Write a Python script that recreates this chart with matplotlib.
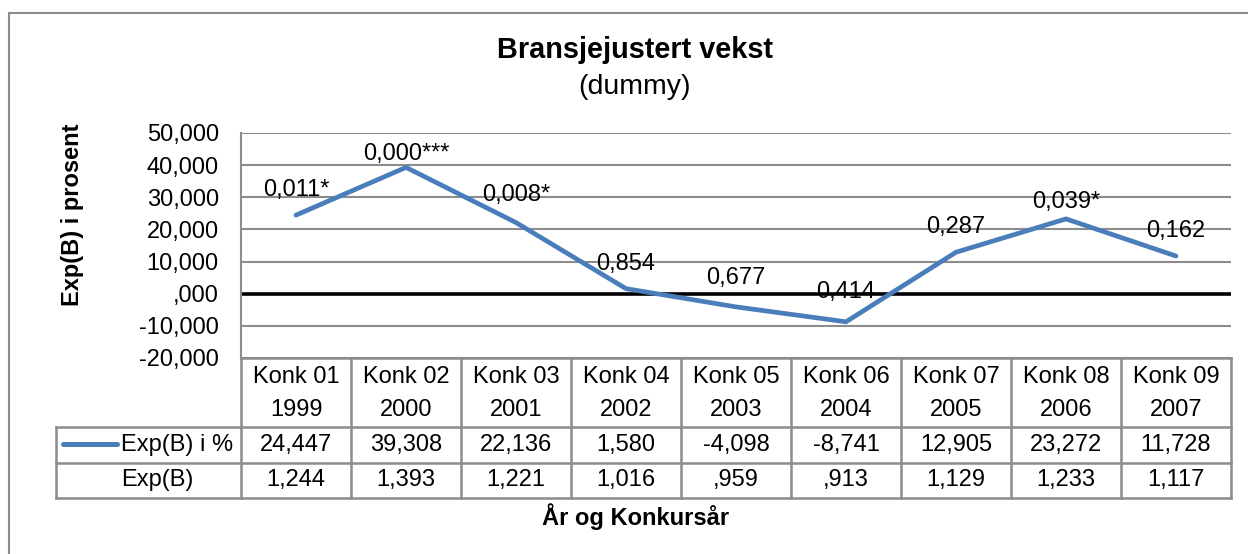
import matplotlib
matplotlib.use("Agg")
import matplotlib.pyplot as plt
from matplotlib.lines import Line2D
from matplotlib.transforms import blended_transform_factory

# ---------------- data ----------------
konk_labels = ["Konk 01", "Konk 02", "Konk 03", "Konk 04", "Konk 05",
               "Konk 06", "Konk 07", "Konk 08", "Konk 09"]
years = ["1999", "2000", "2001", "2002", "2003", "2004", "2005", "2006", "2007"]
exp_b_pct = [24.447, 39.308, 22.136, 1.580, -4.098, -8.741, 12.905, 23.272, 11.728]
exp_b = [1.244, 1.393, 1.221, 1.016, 0.959, 0.913, 1.129, 1.233, 1.117]
p_labels = ["0,011*", "0,000***", "0,008*", "0,854", "0,677", "0,414",
            "0,287", "0,039*", "0,162"]
y_ticks = [-20, -10, 0, 10, 20, 30, 40, 50]
series_name = "Exp(B) i %"
row2_name = "Exp(B)"
title = "Bransjejustert vekst"
subtitle = "(dummy)"
y_label = "Exp(B) i prosent"
x_label = "År og Konkursår"

# label offsets (pixels above point)
label_dy = [25, 13, 28, 25, 29, 30, 25, 17, 25]


def fmt(v):
    s = f"{v:.3f}".replace(".", ",")
    if s.startswith("0,"):
        s = s[1:]
    elif s.startswith("-0,"):
        s = "-" + s[2:]
    return s


# ---------------- figure ----------------
W, H = 1248, 554
plt.rcParams["font.family"] = ["Liberation Sans", "DejaVu Sans"]
fig = plt.figure(figsize=(W / 100, H / 100), dpi=100)
fig.patch.set_facecolor("white")

GRID = "#8c8c8c"
BLUE = "#4a7ebb"
FS = 17


def fx(px):
    return px / W


def fy(py):
    return 1 - py / H


# outer chart border (left and top visible)
fig.add_artist(Line2D([fx(9), fx(9)], [fy(13), fy(H + 5)], color=GRID, lw=1.5,
                      transform=fig.transFigure))
fig.add_artist(Line2D([fx(9), fx(W + 5)], [fy(13), fy(13)], color=GRID, lw=1.5,
                      transform=fig.transFigure))

# plot area
L, R, T, B = 241, 1231, 133, 358
ax = fig.add_axes([fx(L), fy(B), fx(R - L), (B - T) / H])
n = len(exp_b_pct)
xs = list(range(n))
ax.set_xlim(-0.5, n - 0.5)
ax.set_ylim(min(y_ticks), max(y_ticks))
ax.set_yticks(y_ticks)
ax.set_yticklabels([fmt(v) for v in y_ticks], fontsize=FS)
ax.tick_params(axis="y", length=0, pad=16)
ax.set_xticks([])
for s in ["top", "right", "bottom"]:
    ax.spines[s].set_visible(False)
ax.spines["left"].set_color(GRID)
ax.spines["left"].set_linewidth(1.5)
ax.grid(axis="y", color=GRID, lw=1.5)
ax.set_axisbelow(True)
ax.axhline(0, color="black", lw=2.6, zorder=2)
ax.plot(xs, exp_b_pct, color=BLUE, lw=3.4, solid_capstyle="round",
        solid_joinstyle="miter", zorder=3)
for x, v, lab, dy in zip(xs, exp_b_pct, p_labels, label_dy):
    ax.annotate(lab, (x, v), xytext=(0, dy), textcoords="offset pixels",
                ha="center", va="center", fontsize=FS, zorder=4)

# titles
fig.text(fx(635), fy(50), title, ha="center", va="center", fontsize=20.8,
         fontweight="bold")
fig.text(fx(635), fy(87), subtitle, ha="center", va="center", fontsize=20.5)
fig.text(fx(73), fy(215), y_label, ha="center", va="center", rotation=90,
         fontsize=FS, fontweight="bold")
fig.text(fx(636), fy(517), x_label, ha="center", va="center", fontsize=FS,
         fontweight="bold")

# data table
tb = blended_transform_factory(ax.transData, fig.transFigure)
ft = fig.transFigure
y_top, y_hdr, y_r1, y_r2 = 358, 427, 463, 498
TLW = 1.8
fig.add_artist(Line2D([-0.5, n - 0.5], [fy(y_top), fy(y_top)], color=GRID, lw=TLW,
                      transform=tb))
for yy in [y_hdr, y_r1, y_r2]:
    fig.add_artist(Line2D([fx(56), fx(R)], [fy(yy), fy(yy)], color=GRID, lw=TLW,
                          transform=ft))
for i in range(n + 1):
    xb = i - 0.5
    fig.add_artist(Line2D([xb, xb], [fy(y_top), fy(y_r2)], color=GRID, lw=TLW,
                          transform=tb))
fig.add_artist(Line2D([fx(56), fx(56)], [fy(y_hdr), fy(y_r2)], color=GRID, lw=TLW,
                      transform=ft))

for x, k, yr in zip(xs, konk_labels, years):
    fig.text(x, fy(377), k, transform=tb, ha="center", va="center", fontsize=FS)
    fig.text(x, fy(410), yr, transform=tb, ha="center", va="center", fontsize=FS)

for x, v, e in zip(xs, exp_b_pct, exp_b):
    fig.text(x, fy(445), fmt(v), transform=tb, ha="center", va="center", fontsize=FS)
    fig.text(x, fy(480), fmt(e), transform=tb, ha="center", va="center", fontsize=FS)

fig.add_artist(Line2D([fx(63), fx(117)], [fy(444), fy(444)], color=BLUE, lw=3.6,
                      solid_capstyle="round", transform=ft))
fig.text(fx(121), fy(445), series_name, ha="left", va="center", fontsize=FS)
fig.text(fx(121), fy(480), row2_name, ha="left", va="center", fontsize=FS)

fig.savefig("out.png", dpi=100, facecolor="white")
